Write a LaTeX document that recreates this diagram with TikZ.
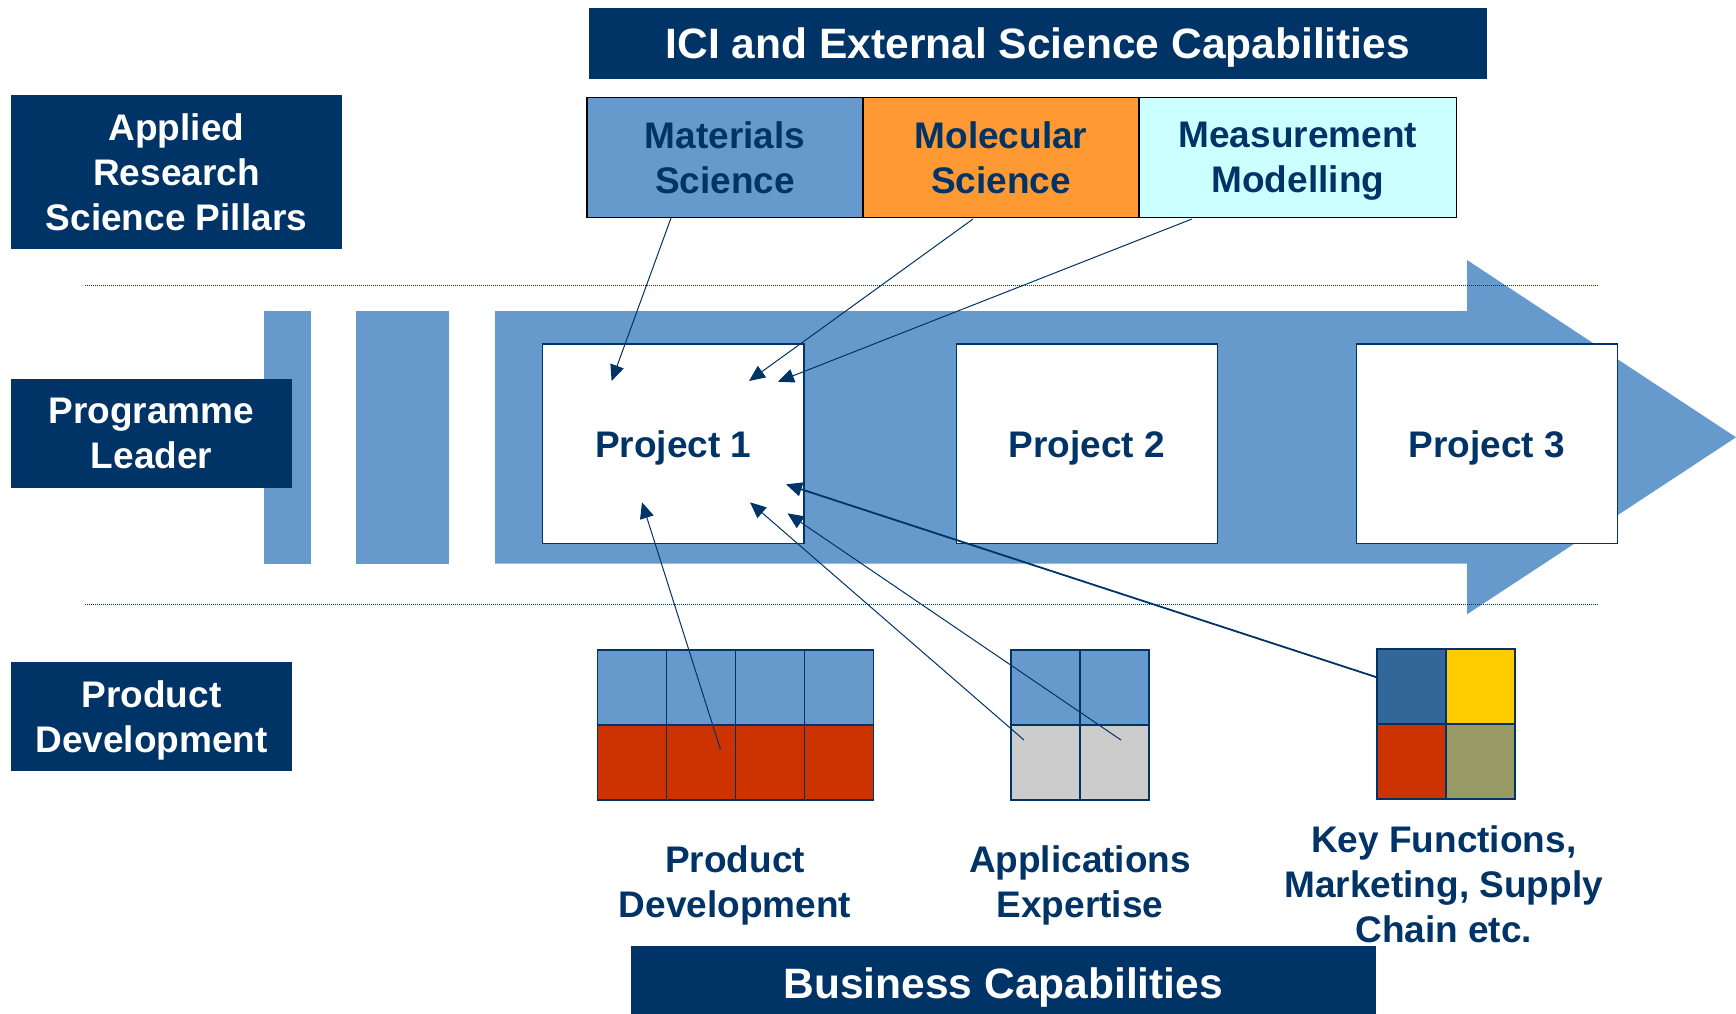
\documentclass[tikz,border=0pt]{standalone}
\usepackage{fontspec}
\setmainfont{Liberation Sans}
\usetikzlibrary{arrows.meta}
\definecolor{navy}{HTML}{003366}
\definecolor{lblue}{HTML}{6699CC}
\definecolor{orng}{HTML}{FF9933}
\definecolor{lcyan}{HTML}{CCFFFF}
\definecolor{rust}{HTML}{CC3300}
\definecolor{lgray}{HTML}{CCCCCC}
\definecolor{dblue}{HTML}{336699}
\definecolor{yell}{HTML}{FFCC00}
\definecolor{olive}{HTML}{999966}
\newcommand\dgbody{\fontsize{18.5pt}{22.5pt}\selectfont\bfseries}
\newcommand\dgtitle{\fontsize{21.25pt}{25pt}\selectfont\bfseries}
\tikzset{
  lab/.style={fill=navy, text=white, font=\dgbody, align=center, inner sep=0pt},
  bigtitle/.style={fill=navy, text=white, font=\dgtitle, align=center, inner sep=0pt, text depth=0pt},
  sci/.style={draw=black, line width=0.75pt, text=navy, font=\dgbody, align=center, inner sep=0pt, minimum height=60pt},
  proj/.style={fill=white, draw=navy, line width=0.6pt, text=navy, font=\dgbody, inner sep=0pt, text depth=0pt, minimum width=130.8pt, minimum height=99.65pt},
  cell/.style={draw=navy, line width=0.6pt, minimum width=34.5pt, minimum height=37.5pt, inner sep=0pt},
  captxt/.style={text=navy, font=\dgbody, align=center, inner sep=0pt},
  conn/.style={draw=navy, line width=0.5pt, -{Triangle[length=8pt,width=7pt]}},
  dots/.style={draw=navy, line width=0.35pt, dash pattern=on 0.4pt off 0.6pt}
}
\begin{document}
\begin{tikzpicture}[x=0.5pt,y=-0.5pt]
\useasboundingbox (0,0) rectangle (1736,1013);
\fill[white] (0,0) rectangle (1736,1013);

% big process arrow and bars
\fill[lblue] (495,311) -- (1467,311) -- (1467,260) -- (1736,437.3) -- (1467,614.3) -- (1467,563.7) -- (495,563.7) -- cycle;
\fill[lblue] (263.8,311) rectangle (311.2,563.7);
\fill[lblue] (355.8,311) rectangle (448.7,563.7);

% dotted separators
\draw[dots] (85,285.3) -- (1597,285.3);
\draw[dots] (85,604) -- (1597,604);

% projects
\node[proj] (p1) at (673.2,443.65) {Project 1};
\node[proj] (p2) at (1087,443.65) {Project 2};
\node[proj] (p3) at (1486.9,443.65) {Project 3};

% left labels
\node[lab, minimum width=165.3pt, minimum height=76.85pt] (applied) at (176.5,171.9) {Applied\\Research\\Science Pillars};
\node[lab, minimum width=140.5pt, minimum height=54.35pt] (prog) at (151.5,433.4) {Programme\\Leader};
\node[lab, minimum width=140.5pt, minimum height=54.35pt] (pdlab) at (151.5,716.4) {Product\\\smash{Development}};

% titles
\node[bigtitle, minimum width=449.1pt, minimum height=35.5pt] (ici) at (1037.9,43.5) {ICI and External Science Capabilities};
\node[bigtitle, minimum width=372.25pt, minimum height=37pt] (bus) at (1003.3,983) {Business Capabilities};

% science pillars
\node[sci, fill=lblue, minimum width=138pt] (mat) at (725,157.3) {Materials\\Science};
\node[sci, fill=orng, minimum width=138pt] (mol) at (1001,157.3) {Molecular\\Science};
\node[sci, fill=lcyan, minimum width=158.85pt] (meas) at (1297.85,157.3) {Measurement\\\smash{Modelling}};

% product development grid
\foreach \i/\x in {1/632.1,2/701.1,3/770.1,4/839.1}{
  \node[cell, fill=lblue] (pdt\i) at (\x,687.5) {};
  \node[cell, fill=rust] (pdb\i) at (\x,762.5) {};
}
% applications grid
\foreach \i/\x in {1/1045.4,2/1114.4}{
  \node[cell, fill=lblue] (apt\i) at (\x,687.5) {};
  \node[cell, fill=lgray] (apb\i) at (\x,762.5) {};
}
% key functions grid
\node[cell, fill=dblue] (k1) at (1411.5,686.5) {};
\node[cell, fill=yell] (k2) at (1480.5,686.5) {};
\node[cell, fill=rust] (k3) at (1411.5,761.5) {};
\node[cell, fill=olive] (k4) at (1480.5,761.5) {};

% captions
\node[captxt] (pdcap) at (735,885.5) {Product\\Development};
\node[captxt] (apcap) at (1080,885.5) {Applications\\Expertise};
\node[captxt] (kcap) at (1443.7,884) {Key Functions,\\Marketing, Supply\\Chain etc.};

% connector end points
\coordinate (matS) at (671,218);
\coordinate (molS) at (973,219);
\coordinate (measS) at (1192,219);
\coordinate (keyS) at (1378,677.7);
\coordinate (ap1S) at (1121,740);
\coordinate (ap2S) at (1024,740);
\coordinate (pdS) at (720.4,749.3);
\coordinate (matT) at (611.6,381);
\coordinate (molT) at (749,381);
\coordinate (measT) at (778,381.7);
\coordinate (keyT) at (786,484.3);
\coordinate (ap1T) at (787.5,513.3);
\coordinate (ap2T) at (750,502.3);
\coordinate (pdT) at (642,502.3);

\draw[conn] (matS) -- (matT);
\draw[conn] (molS) -- (molT);
\draw[conn] (measS) -- (measT);
\draw[conn, line width=0.9pt] (keyS) -- (keyT);
\draw[conn] (ap1S) -- (ap1T);
\draw[conn] (ap2S) -- (ap2T);
\draw[conn] (pdS) -- (pdT);
\end{tikzpicture}
\end{document}
